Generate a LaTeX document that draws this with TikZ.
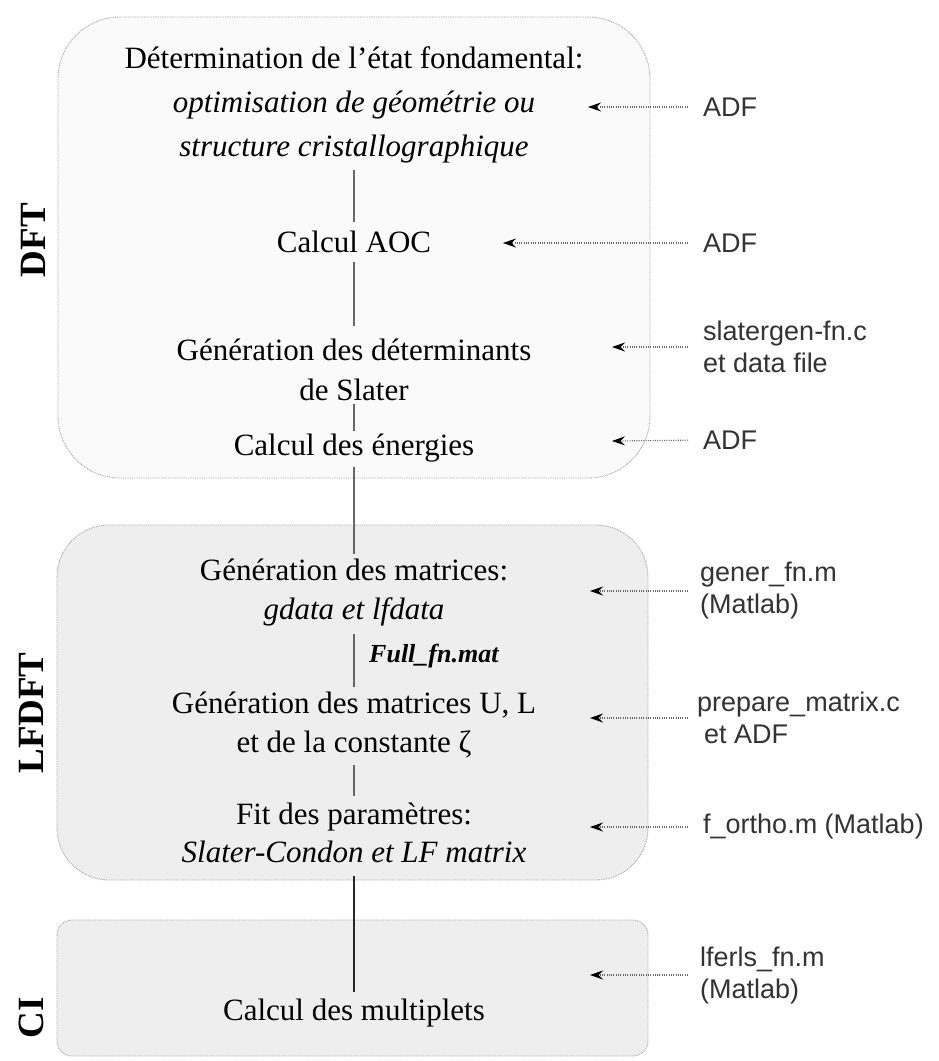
\documentclass[tikz,border=0pt]{standalone}
\usepackage{fontspec}
\setmainfont{Liberation Serif}
\newfontfamily\lsans{Liberation Sans}
\usetikzlibrary{arrows.meta}
\tikzset{
  panel/.style={draw=gray!70, line width=0.9pt, dash pattern=on 0.9pt off 0.9pt},
  txt/.style={font=\fontsize{31}{40}\selectfont, align=center, inner sep=1pt},
  side/.style={font=\fontsize{37}{40}\selectfont\bfseries, rotate=90, inner sep=0pt},
  lbl/.style={font=\lsans\fontsize{27}{32}\selectfont, align=left, anchor=west, inner sep=0pt, text=black!80},
  src/.style={draw=black!60, line width=1.1pt, dash pattern=on 1pt off 1.3pt,
    -{Stealth[length=13pt,width=9pt,inset=4.5pt,black]}, shorten <=15pt},
  conn/.style={draw=black!60, line width=1.3pt},
}
\begin{document}
\begin{tikzpicture}[x=1pt,y=-1pt]
\useasboundingbox (0,0) rectangle (939,1061);
\fill[white] (0,0) rectangle (939,1061);
% panels
\draw[panel, fill=gray!4, rounded corners=62pt] (58,17) rectangle (650,478);
\draw[panel, fill=gray!13, rounded corners=52pt] (57,525) rectangle (648,880);
\draw[panel, fill=gray!13, rounded corners=15pt] (57,920) rectangle (648,1056);
% side labels
\node[side] (ldft) at (33,240) {DFT};
\node[side] (llf) at (31,713) {LFDFT};
\node[side] (lci) at (31,1018) {CI};
% steps
\node[txt, font=\fontsize{31}{44}\selectfont] (det) at (354,105) {Détermination de l'état fondamental:\\\textit{optimisation de géométrie ou}\\\textit{structure cristallographique}};
\node[txt] (aoc) at (354,242) {Calcul AOC};
\node[txt] (slat) at (354,370) {Génération des déterminants\\de Slater};
\node[txt] (ener) at (354,448) {Calcul des énergies};
\node[txt, font=\fontsize{31}{39}\selectfont] (genm) at (354,593) {Génération des matrices:\\\textit{gdata et lfdata}};
\node[txt, font=\fontsize{26}{30}\selectfont\bfseries\itshape, anchor=west] (full) at (368,656) {Full\_fn.mat};
\node[txt, font=\fontsize{31}{39}\selectfont] (ul) at (354,725) {Génération des matrices U, L\\et de la constante ζ};
\node[txt, font=\fontsize{31}{38}\selectfont] (fit) at (354,833) {Fit des paramètres:\\\textit{Slater-Condon et LF matrix}};
\node[txt] (mult) at (354,1013) {Calcul des multiplets};
% connectors
\draw[conn, shorten <=6pt, shorten >=8pt] (det.south) -- (aoc.north);
\draw[conn, shorten <=8pt, shorten >=12pt] (aoc.south) -- (slat.north);
\draw[conn, shorten <=2pt, shorten >=2pt] (slat.south) -- (ener.north);
\draw[conn, shorten <=4pt, shorten >=4pt] (ener.south) -- (genm.north);
\draw[conn, shorten <=6pt, shorten >=4pt] (genm.south) -- (ul.north);
\draw[conn, shorten <=6pt, shorten >=6pt] (ul.south) -- (fit.north);
\draw[conn, draw=black!85, shorten <=12pt, shorten >=6pt] (fit.south) -- (mult.north);
% sources
\node[lbl] (s1) at (703,107) {ADF};
\node[lbl] (s2) at (703,243) {ADF};
\node[lbl] (s3) at (703,347) {slatergen-fn.c\\et data file};
\node[lbl] (s4) at (703,440) {ADF};
\node[lbl] (s5) at (700,591) {gener\_fn.m\\(Matlab)};
\node[lbl] (s6) at (697,718) {prepare\_matrix.c\\\hspace{7pt}et ADF};
\node[lbl] (s7) at (703,827) {f\_ortho.m (Matlab)};
\node[lbl] (s8) at (700,975) {lferls\_fn.m\\(Matlab)};
\coordinate (h1) at (588,107);
\coordinate (h2) at (503,243);
\coordinate (h3) at (612,347);
\coordinate (h4) at (612,441);
\coordinate (h5) at (590,591);
\coordinate (h6) at (590,718);
\coordinate (h7) at (590,827);
\coordinate (h8) at (590,975);
\draw[src] (s1.west) -- (h1);
\draw[src] (s2.west) -- (h2);
\draw[src] (s3.west) -- (h3);
\draw[src] (s4.west) -- (h4);
\draw[src, shorten <=12pt] (s5.west) -- (h5);
\draw[src, shorten <=9pt] (s6.west) -- (h6);
\draw[src] (s7.west) -- (h7);
\draw[src, shorten <=12pt] (s8.west) -- (h8);
\end{tikzpicture}
\end{document}
